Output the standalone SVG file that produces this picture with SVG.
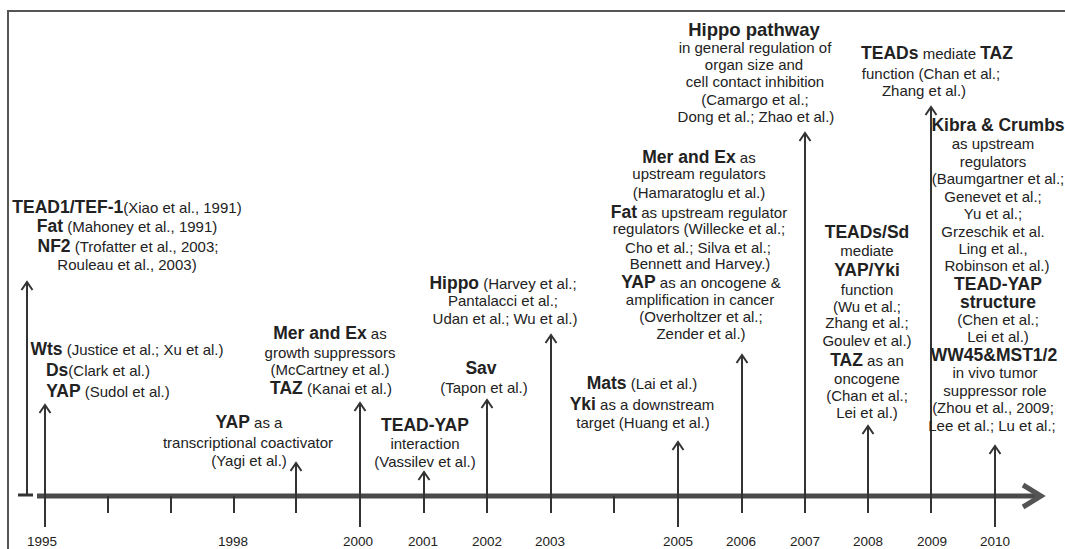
<svg xmlns="http://www.w3.org/2000/svg" width="1065" height="549" viewBox="0 0 1065 549">
<style>
.t{font-family:"Liberation Sans",Arial,sans-serif;font-size:15px;fill:#222;text-anchor:middle}
.b{font-weight:bold;font-size:17.5px}
.yr{font-family:"Liberation Sans",Arial,sans-serif;font-size:13.5px;fill:#222;text-anchor:middle}
.ln{stroke:#333;stroke-width:2;fill:none}
.lnA{stroke:#333;stroke-width:2;fill:none;marker-end:url(#ah)}
</style>
<defs>
<marker id="ah" markerUnits="userSpaceOnUse" markerWidth="20" markerHeight="20" viewBox="-10 -10 20 20" refX="0" refY="0" orient="auto">
<path d="M-8,-5.5 L0,0 L-8,5.5" fill="none" stroke="#333" stroke-width="2"/>
</marker>
</defs>
<rect width="1065" height="549" fill="#fff"/>
<g id="frame">
<path d="M8,549 L8,11 L1065,11" fill="none" stroke="#555" stroke-width="2"/>
</g>
<g id="connectors">
<line x1="37" y1="496" x2="1036" y2="496" stroke="#4a4a4a" stroke-width="5"/>
<path d="M1023,485 L1041,496 L1023,507" fill="none" stroke="#555" stroke-width="5"/>
<line x1="18" y1="495" x2="33" y2="495" stroke="#333" stroke-width="3"/>
<line class="lnA" x1="27" y1="495" x2="27" y2="282"/>
<line class="lnA" x1="45" y1="527" x2="45" y2="405"/>
<line class="ln" x1="108" y1="496" x2="108" y2="513"/>
<line class="ln" x1="171" y1="496" x2="171" y2="513"/>
<line class="ln" x1="234" y1="496" x2="234" y2="513"/>
<line class="lnA" x1="296" y1="513" x2="296" y2="463"/>
<line class="lnA" x1="360" y1="527" x2="360" y2="403"/>
<line class="lnA" x1="424" y1="513" x2="424" y2="472"/>
<line class="lnA" x1="487" y1="513" x2="487" y2="400"/>
<line class="lnA" x1="551" y1="513" x2="551" y2="335"/>
<line class="ln" x1="614" y1="496" x2="614" y2="513"/>
<line class="lnA" x1="678" y1="527" x2="678" y2="442"/>
<line class="lnA" x1="742" y1="513" x2="742" y2="355"/>
<line class="lnA" x1="805" y1="513" x2="805" y2="133"/>
<line class="lnA" x1="868" y1="513" x2="868" y2="426"/>
<line class="lnA" x1="931" y1="513" x2="931" y2="107"/>
<line class="lnA" x1="995" y1="527" x2="995" y2="446"/>
</g>
<g id="years">
<text class="yr" x="42" y="546">1995</text>
<text class="yr" x="233" y="546">1998</text>
<text class="yr" x="358" y="546">2000</text>
<text class="yr" x="423" y="546">2001</text>
<text class="yr" x="487" y="546">2002</text>
<text class="yr" x="550" y="546">2003</text>
<text class="yr" x="678" y="546">2005</text>
<text class="yr" x="741" y="546">2006</text>
<text class="yr" x="805" y="546">2007</text>
<text class="yr" x="868" y="546">2008</text>
<text class="yr" x="932" y="546">2009</text>
<text class="yr" x="995" y="546">2010</text>
</g>
<g id="n1991">
<text class="t" x="127" y="213"><tspan class="b">TEAD1/TEF-1</tspan>(Xiao et al., 1991)</text>
<text class="t" x="127" y="232"><tspan class="b">Fat</tspan> (Mahoney et al., 1991)</text>
<text class="t" x="128" y="252"><tspan class="b">NF2</tspan> (Trofatter et al., 2003;</text>
<text class="t" x="127" y="270">Rouleau et al., 2003)</text>
</g>
<g id="n1995">
<text class="t" x="127" y="355"><tspan class="b">Wts</tspan> (Justice et al.; Xu et al.)</text>
<text class="t" x="98" y="376"><tspan class="b">Ds</tspan>(Clark et al.)</text>
<text class="t" x="108" y="397"><tspan class="b">YAP</tspan> (Sudol et al.)</text>
</g>
<g id="n1999">
<text class="t" x="249" y="428"><tspan class="b">YAP</tspan> as a</text>
<text class="t" x="248" y="448">transcriptional coactivator</text>
<text class="t" x="249" y="466">(Yagi et al.)</text>
</g>
<g id="n2000">
<text class="t" x="330" y="339"><tspan class="b">Mer and Ex</tspan> as</text>
<text class="t" x="330" y="358">growth suppressors</text>
<text class="t" x="330" y="375">(McCartney et al.)</text>
<text class="t" x="331" y="394"><tspan class="b">TAZ</tspan> (Kanai et al.)</text>
</g>
<g id="n2001">
<text class="t" x="425" y="431"><tspan class="b">TEAD-YAP</tspan></text>
<text class="t" x="425" y="449">interaction</text>
<text class="t" x="425" y="467">(Vassilev et al.)</text>
</g>
<g id="n2002">
<text class="t" x="481" y="374"><tspan class="b">Sav</tspan></text>
<text class="t" x="484" y="393">(Tapon et al.)</text>
</g>
<g id="n2003">
<text class="t" x="503" y="289"><tspan class="b">Hippo</tspan> (Harvey et al.;</text>
<text class="t" x="503" y="306">Pantalacci et al.;</text>
<text class="t" x="505" y="324">Udan et al.; Wu et al.)</text>
</g>
<g id="n2005">
<text class="t" x="642" y="389"><tspan class="b">Mats</tspan> (Lai et al.)</text>
<text class="t" x="642" y="410"><tspan class="b">Yki</tspan> as a downstream</text>
<text class="t" x="643" y="428">target (Huang et al.)</text>
</g>
<g id="n2006">
<text class="t" x="699" y="163"><tspan class="b">Mer and Ex</tspan> as</text>
<text class="t" x="699" y="179">upstream regulators</text>
<text class="t" x="699" y="198">(Hamaratoglu et al.)</text>
<text class="t" x="699" y="218"><tspan class="b">Fat</tspan> as upstream regulator</text>
<text class="t" x="699" y="234">regulators (Willecke et al.;</text>
<text class="t" x="698" y="253">Cho et al.; Silva et al.;</text>
<text class="t" x="700" y="269">Bennett and Harvey.)</text>
<text class="t" x="701" y="288"><tspan class="b">YAP</tspan> as an oncogene &amp;</text>
<text class="t" x="700" y="305">amplification in cancer</text>
<text class="t" x="701" y="322">(Overholtzer et al.;</text>
<text class="t" x="701" y="339">Zender et al.)</text>
</g>
<g id="n2007">
<text class="t" x="754" y="36"><tspan class="b" style="font-size:18.5px">Hippo pathway</tspan></text>
<text class="t" x="755" y="53">in general regulation of</text>
<text class="t" x="754" y="70">organ size and</text>
<text class="t" x="755" y="87">cell contact inhibition</text>
<text class="t" x="755" y="105">(Camargo et al.;</text>
<text class="t" x="756" y="122">Dong et al.; Zhao et al.)</text>
</g>
<g id="n2008">
<text class="t" x="867" y="238"><tspan class="b">TEADs/Sd</tspan></text>
<text class="t" x="867" y="256">mediate</text>
<text class="t" x="867" y="276"><tspan class="b">YAP/Yki</tspan></text>
<text class="t" x="867" y="295">function</text>
<text class="t" x="867" y="312">(Wu et al.;</text>
<text class="t" x="867" y="328">Zhang et al.;</text>
<text class="t" x="867" y="346">Goulev et al.)</text>
<text class="t" x="867" y="366"><tspan class="b">TAZ</tspan> as an</text>
<text class="t" x="867" y="384">oncogene</text>
<text class="t" x="867" y="401">(Chan et al.;</text>
<text class="t" x="867" y="418">Lei et al.)</text>
</g>
<g id="n2009">
<text class="t" x="937" y="59"><tspan class="b">TEADs</tspan> mediate <tspan class="b">TAZ</tspan></text>
<text class="t" x="931" y="79">function (Chan et al.;</text>
<text class="t" x="924" y="96">Zhang et al.)</text>
</g>
<g id="n2010">
<text class="t" x="998" y="131"><tspan class="b">Kibra &amp; Crumbs</tspan></text>
<text class="t" x="993" y="149">as upstream</text>
<text class="t" x="993" y="167">regulators</text>
<text class="t" x="998" y="184">(Baumgartner et al.;</text>
<text class="t" x="993" y="202">Genevet et al.;</text>
<text class="t" x="993" y="219">Yu et al.;</text>
<text class="t" x="993" y="237">Grzeschik et al.</text>
<text class="t" x="993" y="254">Ling et al.,</text>
<text class="t" x="997" y="271">Robinson et al.)</text>
<text class="t" x="998" y="290"><tspan class="b">TEAD-YAP</tspan></text>
<text class="t" x="998" y="308"><tspan class="b">structure</tspan></text>
<text class="t" x="998" y="325">(Chen et al.;</text>
<text class="t" x="998" y="342">Lei et al.)</text>
<text class="t" x="994" y="361"><tspan class="b">WW45&amp;MST1/2</tspan></text>
<text class="t" x="995" y="378">in vivo tumor</text>
<text class="t" x="995" y="396">suppressor role</text>
<text class="t" x="993" y="413">(Zhou et al., 2009;</text>
<text class="t" x="992" y="431">Lee et al.; Lu et al.;</text>
</g>
</svg>
